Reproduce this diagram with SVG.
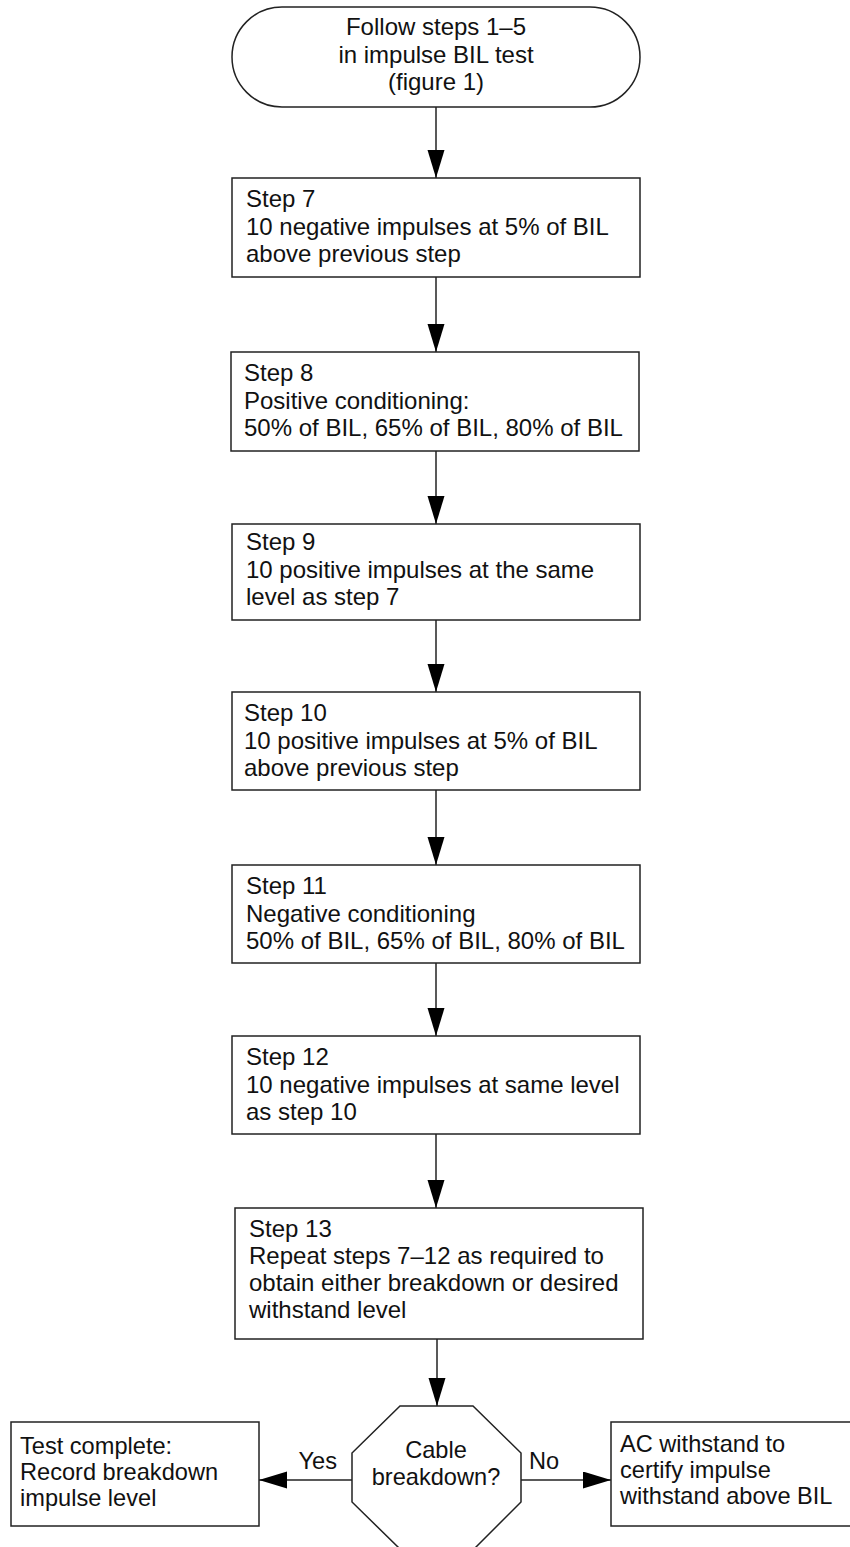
<svg xmlns="http://www.w3.org/2000/svg" width="850" height="1547" viewBox="0 0 850 1547">
<style>
.box{fill:#fff;stroke:#222;stroke-width:1.5}
.t{font-family:"Liberation Sans",Arial,sans-serif;font-size:24px;fill:#111}
.s{font-size:23.6px}
.c{text-anchor:middle}
.ln{stroke:#222;stroke-width:1.5;fill:none}
</style>
<defs>
<marker id="ah" markerUnits="userSpaceOnUse" markerWidth="30" markerHeight="18" refX="28" refY="8.5" orient="auto">
<path d="M0,0 L28,8.5 L0,17 z" fill="#000"/>
</marker>
</defs>
<g id="connectors">
<line class="ln" x1="436" y1="107" x2="436" y2="178" marker-end="url(#ah)"/>
<line class="ln" x1="436" y1="277" x2="436" y2="352" marker-end="url(#ah)"/>
<line class="ln" x1="436" y1="451" x2="436" y2="524" marker-end="url(#ah)"/>
<line class="ln" x1="436" y1="620" x2="436" y2="692" marker-end="url(#ah)"/>
<line class="ln" x1="436" y1="790" x2="436" y2="865" marker-end="url(#ah)"/>
<line class="ln" x1="436" y1="963" x2="436" y2="1036" marker-end="url(#ah)"/>
<line class="ln" x1="436" y1="1134" x2="436" y2="1208" marker-end="url(#ah)"/>
<line class="ln" x1="437" y1="1339" x2="437" y2="1406" marker-end="url(#ah)"/>
<line class="ln" x1="352" y1="1480" x2="259" y2="1480" marker-end="url(#ah)"/>
<line class="ln" x1="521" y1="1480" x2="611" y2="1480" marker-end="url(#ah)"/>
<text class="t s" x="337" y="1469" text-anchor="end">Yes</text>
<text class="t s" x="529" y="1469">No</text>
</g>
<g id="start">
<rect class="box" x="232" y="7" width="408" height="100" rx="50" ry="50"/>
<text class="t c" x="436" y="35">Follow steps 1–5</text>
<text class="t c" x="436" y="63">in impulse BIL test</text>
<text class="t c" x="436" y="90">(figure 1)</text>
</g>
<g id="step7">
<rect class="box" x="232" y="178" width="408" height="99"/>
<text class="t" x="246" y="207">Step 7</text>
<text class="t" x="246" y="234.5">10 negative impulses at 5% of BIL</text>
<text class="t" x="246" y="262">above previous step</text>
</g>
<g id="step8">
<rect class="box" x="231" y="352" width="408" height="99"/>
<text class="t" x="244" y="381">Step 8</text>
<text class="t" x="244" y="408.5">Positive conditioning:</text>
<text class="t" x="244" y="436">50% of BIL, 65% of BIL, 80% of BIL</text>
</g>
<g id="step9">
<rect class="box" x="232" y="524" width="408" height="96"/>
<text class="t" x="246" y="550">Step 9</text>
<text class="t" x="246" y="577.5">10 positive impulses at the same</text>
<text class="t" x="246" y="605">level as step 7</text>
</g>
<g id="step10">
<rect class="box" x="232" y="692" width="408" height="98"/>
<text class="t" x="244" y="721">Step 10</text>
<text class="t" x="244" y="748.5">10 positive impulses at 5% of BIL</text>
<text class="t" x="244" y="776">above previous step</text>
</g>
<g id="step11">
<rect class="box" x="232" y="865" width="408" height="98"/>
<text class="t" x="246" y="894">Step 11</text>
<text class="t" x="246" y="921.5">Negative conditioning</text>
<text class="t" x="246" y="949">50% of BIL, 65% of BIL, 80% of BIL</text>
</g>
<g id="step12">
<rect class="box" x="232" y="1036" width="408" height="98"/>
<text class="t" x="246" y="1065">Step 12</text>
<text class="t" x="246" y="1092.5">10 negative impulses at same level</text>
<text class="t" x="246" y="1120">as step 10</text>
</g>
<g id="step13">
<rect class="box" x="235" y="1208" width="408" height="131"/>
<text class="t" x="249" y="1237">Step 13</text>
<text class="t" x="249" y="1264">Repeat steps 7–12 as required to</text>
<text class="t" x="249" y="1291">obtain either breakdown or desired</text>
<text class="t" x="249" y="1318">withstand level</text>
</g>
<g id="decision">
<polygon class="box" points="400,1406 473,1406 521,1453 521,1502 474,1549 400,1549 352,1502 352,1453"/>
<text class="t s c" x="436" y="1458">Cable</text>
<text class="t s c" x="436" y="1485">breakdown?</text>
</g>
<g id="complete">
<rect class="box" x="11" y="1422" width="248" height="104"/>
<text class="t s" x="20" y="1454">Test complete:</text>
<text class="t s" x="20" y="1480">Record breakdown</text>
<text class="t s" x="20" y="1506">impulse level</text>
</g>
<g id="acwithstand">
<rect class="box" x="611" y="1422" width="260" height="104"/>
<text class="t s" x="620" y="1452">AC withstand to</text>
<text class="t s" x="620" y="1478">certify impulse</text>
<text class="t s" x="620" y="1504">withstand above BIL</text>
</g>
</svg>
